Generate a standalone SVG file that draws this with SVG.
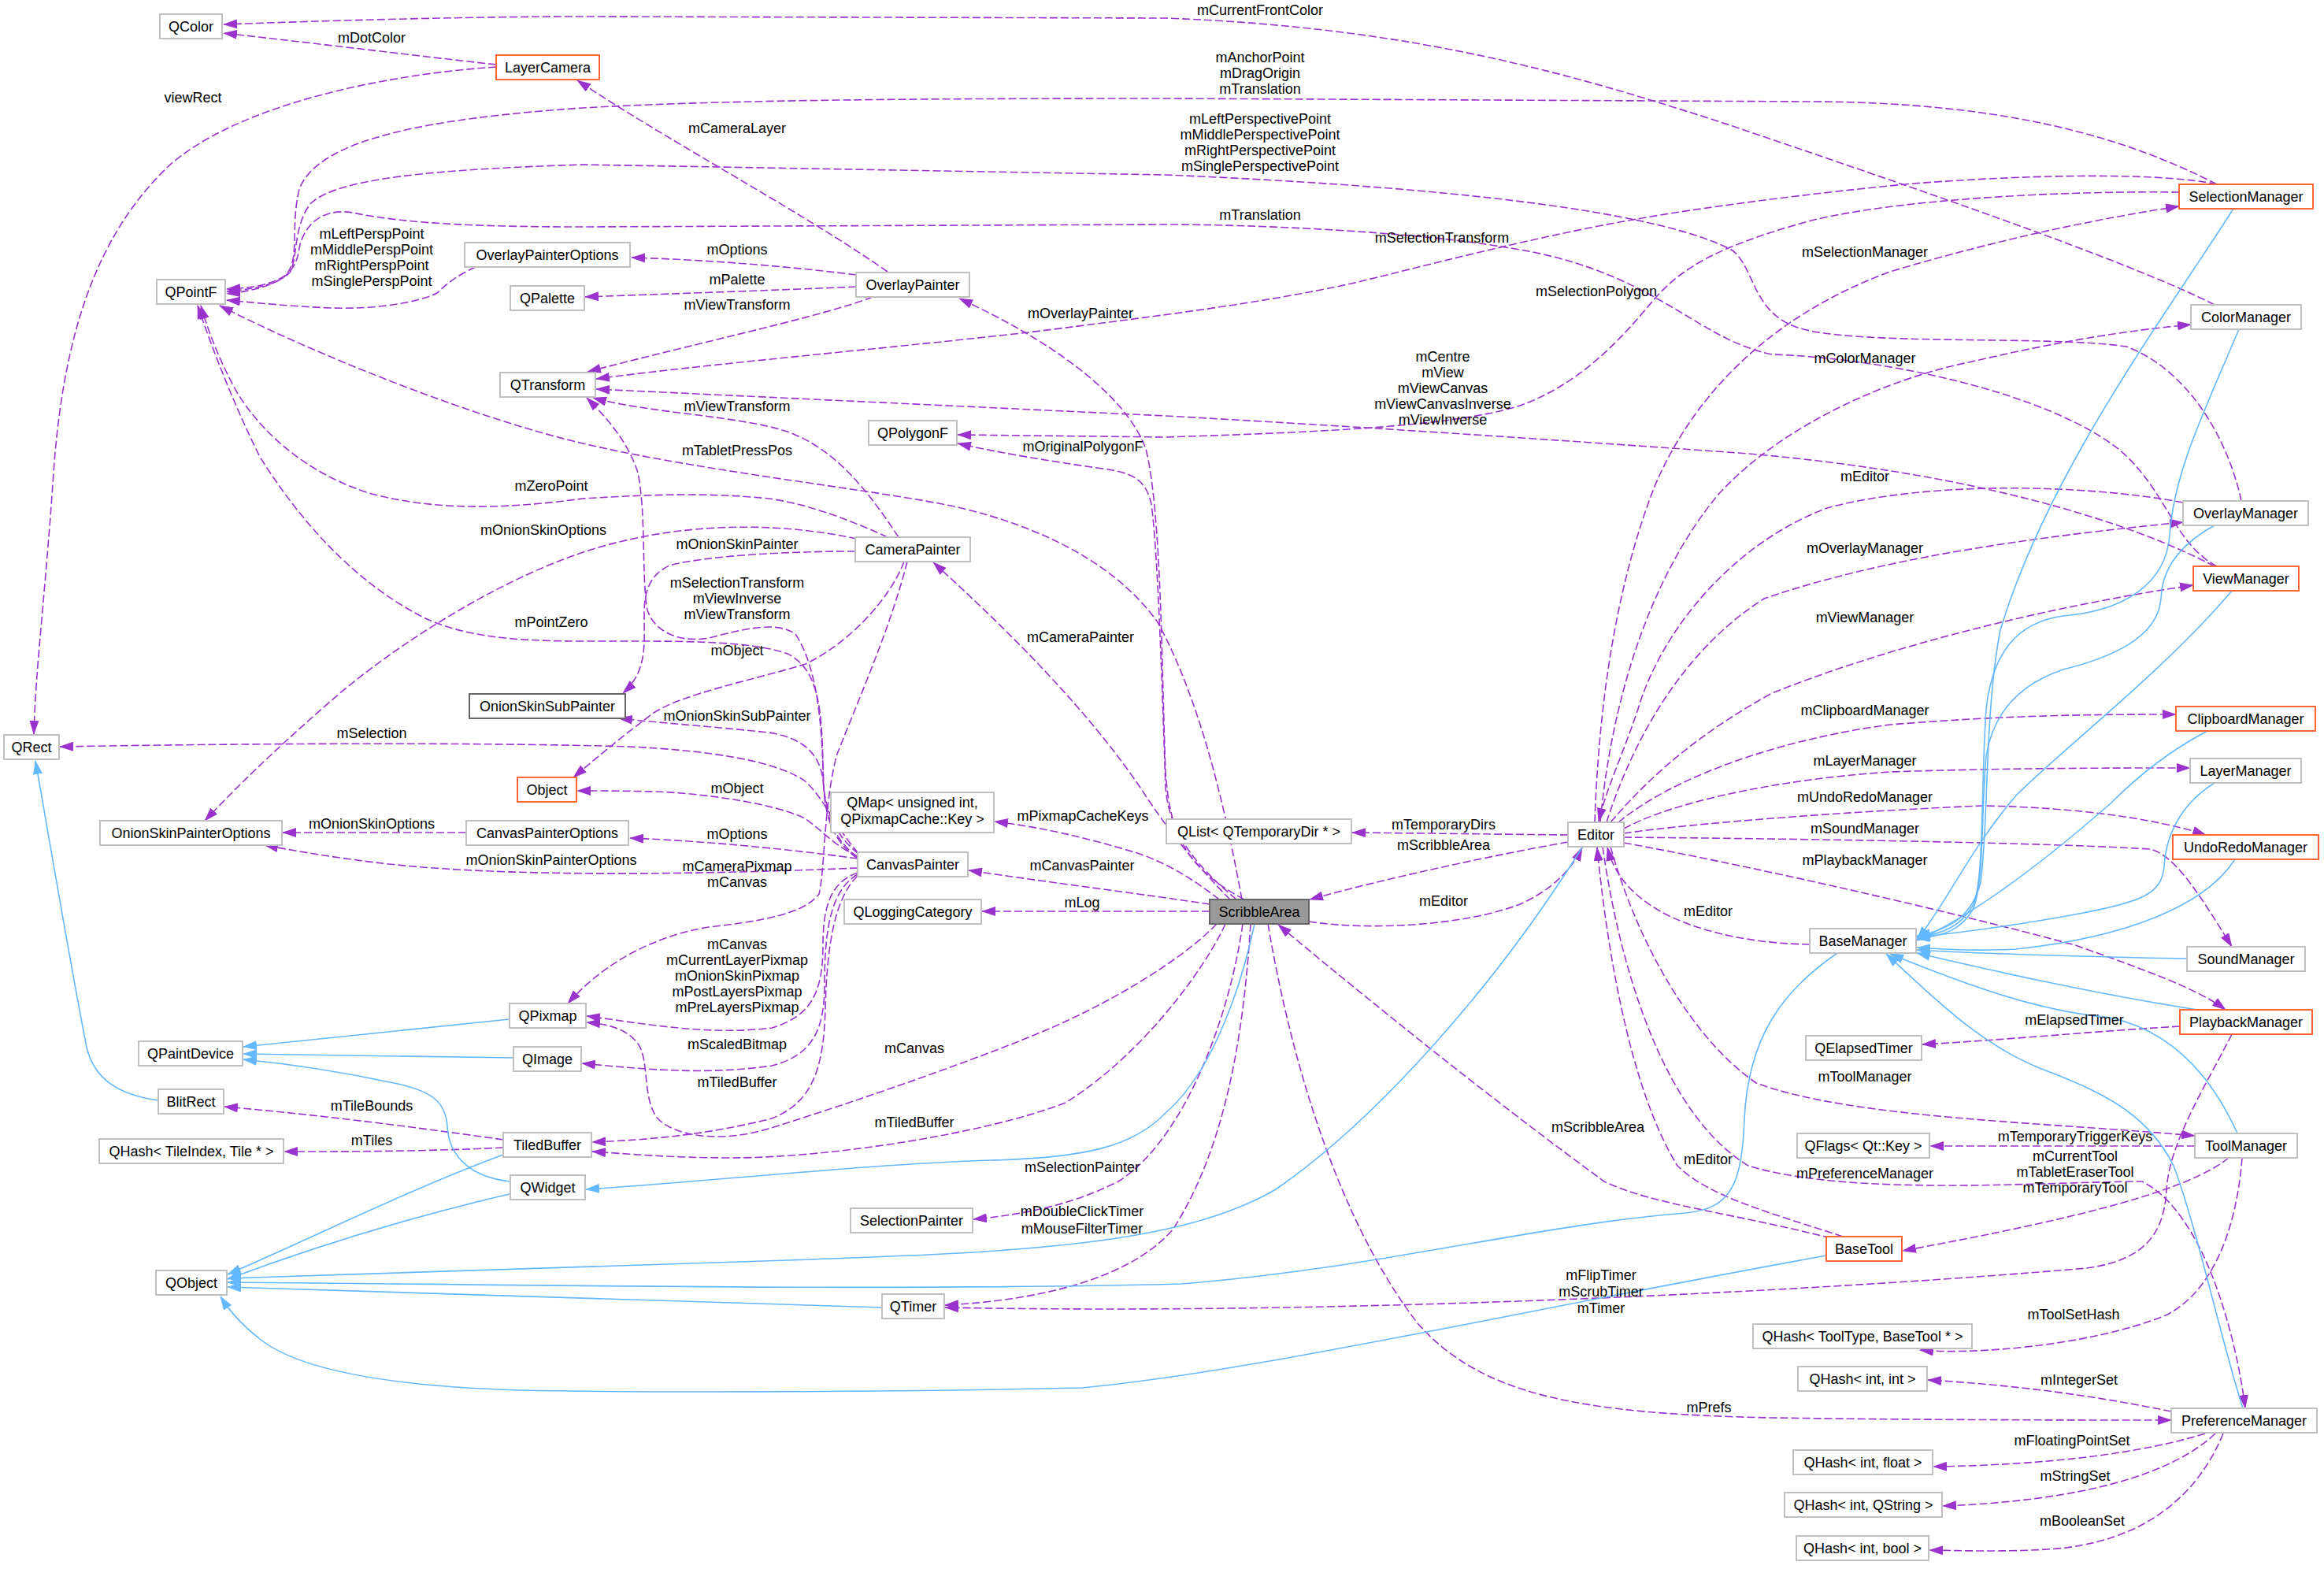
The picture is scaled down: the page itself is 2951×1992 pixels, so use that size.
<svg xmlns="http://www.w3.org/2000/svg" width="2951" height="1992" viewBox="0 0 2951 1992">
<defs>
<style>
.e{fill:none;stroke:#9a32cd;stroke-width:1.6;stroke-dasharray:10,4;marker-end:url(#ap)}
.i{fill:none;stroke:#63b8ff;stroke-width:1.6;marker-end:url(#ab)}
.l{font-family:"Liberation Sans",Arial,sans-serif;font-size:18px;text-anchor:middle;fill:#000}
.nd{fill:#fff;stroke:#bfbfbf;stroke-width:2}
.or{fill:#fff;stroke:#ff6633;stroke-width:2}
.dk{fill:#fff;stroke:#666;stroke-width:2}
.sa{fill:#999;stroke:#666;stroke-width:2}
</style>
<marker id="ap" viewBox="0 0 18 12" refX="17" refY="6" markerWidth="18" markerHeight="12" markerUnits="userSpaceOnUse" orient="auto"><path d="M0,0 L18,6 L0,12 z" fill="#9a32cd"/></marker>
<marker id="ab" viewBox="0 0 18 12" refX="17" refY="6" markerWidth="18" markerHeight="12" markerUnits="userSpaceOnUse" orient="auto"><path d="M0,0 L18,6 L0,12 z" fill="#63b8ff"/></marker>
</defs>
<rect width="2951" height="1992" fill="#fff"/>
<g id="connectors">
<path class="e" d="M630,82 C540,72 400,55 284,42"/>
<path class="e" d="M2812,387 C2700,330 2420,235 2200,160 C2000,95 1800,35 1480,23 L740,21 C600,21 420,26 284,31"/>
<path class="e" d="M630,85 C480,95 300,135 215,210 C120,300 80,430 68,600 C58,750 45,850 43,932"/>
<path class="e" d="M2815,234 C2700,175 2550,130 2300,129 L1480,125 C1100,125 900,128 740,137 C550,150 405,175 380,240 C368,290 382,330 362,350 C340,364 310,366 288,367"/>
<path class="e" d="M2846,636 C2830,560 2780,470 2700,440 C2600,425 2350,440 2280,415 C2225,395 2228,340 2200,318 C2120,275 1900,240 1480,222 L740,209 C560,215 425,225 393,260 C372,290 378,330 368,346 C350,364 312,368 288,370"/>
<path class="e" d="M2815,719 C2760,690 2750,620 2690,570 C2600,500 2400,455 2250,450 C2150,430 2100,340 1905,313 C1800,295 1600,285 1480,285 L740,288 C620,288 520,285 448,270 C405,263 385,290 380,315 C376,345 360,365 288,373"/>
<path class="e" d="M604,339 C580,350 570,358 555,372 C530,385 470,393 420,391 C370,389 320,384 288,381"/>
<path class="e" d="M1089,1088 C1052,1062 1046,1020 1045,980 C1044,900 1040,850 1000,830 C950,812 850,814 740,814 C650,814 590,808 540,785 C450,740 380,660 330,580 C300,520 272,450 251,388"/>
<path class="e" d="M1127,682 C1090,665 1030,640 976,633 C900,625 820,628 740,633 C650,645 560,650 472,627 C400,605 340,560 302,500 C285,470 267,430 255,388"/>
<path class="e" d="M1577,1142 C1560,1050 1530,900 1470,790 C1420,720 1330,670 1212,643 C1100,620 900,600 740,563 C600,530 400,450 279,388"/>
<path class="e" d="M1087,349 C1000,338 900,330 802,327"/>
<path class="e" d="M1087,364 C1000,368 850,373 743,377"/>
<path class="e" d="M1108,377 C1050,400 900,432 746,472"/>
<path class="e" d="M1127,345 C1020,270 850,180 733,102"/>
<path class="e" d="M1580,1142 C1500,1100 1485,1050 1480,980 C1475,850 1475,650 1455,570 C1430,500 1330,430 1218,379"/>
<path class="e" d="M2815,234 C2750,220 2600,220 2430,233 C2300,245 2150,265 2079,278 C1950,300 1800,340 1716,360 C1600,385 1480,400 1306,422 C1100,445 900,462 757,481"/>
<path class="e" d="M2767,244 C2600,242 2400,255 2300,280 C2160,318 2125,350 2092,390 C2050,440 2000,490 1930,515 C1850,540 1700,548 1480,555 L1216,552"/>
<path class="e" d="M2812,719 C2700,660 2500,600 2220,576 C2000,560 1700,540 1480,528 L757,494"/>
<path class="e" d="M1141,682 C1100,620 1060,570 1000,548 C940,528 820,524 753,505"/>
<path class="e" d="M1089,1090 C1060,1070 1048,1040 1046,1000 C1044,930 1040,850 1010,805 C985,787 940,800 900,810 C860,817 827,800 821,770 C815,720 820,650 810,600 C797,560 770,530 745,505"/>
<path class="e" d="M1086,700 C1000,700 900,705 850,718 C825,730 818,750 818,780 C818,820 822,852 791,880"/>
<path class="e" d="M1088,684 C1000,665 880,660 760,695 C640,730 500,820 420,890 C340,960 300,1000 260,1042"/>
<path class="e" d="M1148,713 C1130,760 1080,815 1023,843 C950,865 870,880 830,905 C790,935 760,960 728,987"/>
<path class="e" d="M1152,713 C1130,800 1085,900 1062,960 C1045,1030 1048,1100 1040,1135 C1020,1162 960,1170 900,1177 C820,1190 760,1230 721,1274"/>
<path class="e" d="M1089,1090 C1000,1078 900,1068 800,1064"/>
<path class="e" d="M1089,1102 C900,1110 700,1112 566,1103 C480,1098 400,1085 336,1073"/>
<path class="e" d="M592,1057 L359,1057"/>
<path class="e" d="M1089,1087 C1060,1075 1040,1050 1020,1038 C980,1020 900,1008 834,1005 C790,1004 760,1004 733,1004"/>
<path class="e" d="M1090,1084 C1060,1060 1048,1030 1045,990 C1040,950 1010,935 976,930 C900,922 840,918 786,912"/>
<path class="e" d="M1090,1083 C1060,1050 1045,1010 1020,990 C980,965 900,953 800,948 C600,942 300,944 76,948"/>
<path class="e" d="M1089,1108 C1055,1120 1045,1150 1045,1200 C1045,1260 1030,1290 980,1305 C900,1315 820,1300 745,1290"/>
<path class="e" d="M1089,1110 C1055,1130 1047,1180 1047,1250 C1047,1310 1030,1340 980,1353 C900,1365 820,1358 739,1350"/>
<path class="e" d="M1089,1112 C1060,1140 1050,1200 1048,1280 C1046,1360 1030,1400 980,1420 C900,1440 830,1447 752,1450"/>
<path class="e" d="M1545,1173 C1500,1220 1400,1280 1306,1317 C1200,1360 1050,1410 976,1433 C920,1450 860,1445 835,1420 C815,1395 825,1345 810,1325 C795,1305 770,1300 745,1298"/>
<path class="e" d="M1556,1173 C1530,1230 1450,1340 1353,1400 C1250,1440 1050,1470 929,1470 C850,1470 800,1465 752,1462"/>
<path class="e" d="M639,1447 C520,1430 400,1415 285,1405"/>
<path class="e" d="M639,1457 C540,1462 440,1462 361,1462"/>
<path class="e" d="M1570,1142 C1520,1100 1485,1060 1480,1000 C1475,850 1470,700 1462,640 C1455,610 1440,600 1400,595 C1330,585 1270,575 1216,563"/>
<path class="e" d="M1562,1142 C1520,1100 1480,1050 1448,1000 C1380,900 1280,800 1185,714"/>
<path class="e" d="M1548,1142 C1520,1120 1490,1100 1450,1085 C1380,1063 1320,1050 1263,1043"/>
<path class="e" d="M1536,1148 C1450,1135 1330,1120 1230,1105"/>
<path class="e" d="M1536,1157 L1247,1157"/>
<path class="e" d="M1991,1060 L1717,1057"/>
<path class="e" d="M1991,1069 C1900,1085 1760,1115 1663,1142"/>
<path class="e" d="M1662,1170 C1740,1182 1860,1175 1930,1148 C1970,1130 1995,1105 2009,1076"/>
<path class="e" d="M2025,1044 C2030,900 2050,750 2100,620 C2150,500 2250,400 2400,345 C2550,300 2680,275 2767,262"/>
<path class="e" d="M2032,1044 C2045,900 2090,740 2180,630 C2260,540 2400,480 2500,460 C2620,432 2700,420 2782,412"/>
<path class="e" d="M2040,1044 C2070,950 2130,830 2240,760 C2400,705 2600,680 2772,663"/>
<path class="e" d="M2045,1044 C2100,980 2160,930 2250,880 C2400,820 2600,770 2785,743"/>
<path class="e" d="M2055,1044 C2120,990 2250,940 2400,920 C2550,908 2650,907 2763,907"/>
<path class="e" d="M2062,1052 C2120,1020 2250,990 2400,980 C2550,975 2680,975 2781,975"/>
<path class="e" d="M2062,1058 C2150,1045 2350,1030 2517,1023 C2640,1025 2740,1040 2801,1060"/>
<path class="e" d="M2062,1063 C2300,1065 2600,1070 2730,1078 C2760,1085 2790,1130 2834,1202"/>
<path class="e" d="M2062,1070 C2200,1095 2450,1150 2635,1200 C2720,1230 2790,1255 2826,1282"/>
<path class="e" d="M2045,1075 C2080,1200 2150,1320 2230,1375 C2350,1420 2600,1425 2787,1442"/>
<path class="e" d="M2035,1075 C2060,1250 2120,1420 2220,1480 C2350,1520 2600,1500 2720,1500 C2800,1540 2840,1700 2851,1788"/>
<path class="e" d="M2298,1199 C2230,1198 2160,1185 2110,1158 C2070,1135 2050,1110 2041,1076"/>
<path class="e" d="M2340,1570 C2250,1540 2170,1520 2130,1480 C2080,1400 2045,1250 2028,1076"/>
<path class="e" d="M2325,1572 C2200,1540 2100,1530 2037,1500 C1900,1400 1750,1280 1623,1174"/>
<path class="e" d="M2787,1455 L2451,1455"/>
<path class="e" d="M2830,1470 C2780,1510 2650,1545 2416,1588"/>
<path class="e" d="M2847,1470 C2840,1560 2810,1640 2750,1670 C2650,1710 2500,1720 2438,1714"/>
<path class="e" d="M2768,1303 C2650,1310 2550,1320 2441,1326"/>
<path class="e" d="M2834,1313 C2800,1380 2755,1450 2751,1510 C2748,1570 2720,1600 2650,1610 C2300,1640 1700,1670 1200,1660"/>
<path class="e" d="M1588,1173 C1580,1300 1560,1450 1490,1560 C1430,1630 1300,1652 1200,1657"/>
<path class="e" d="M1578,1173 C1560,1300 1500,1450 1420,1500 C1360,1530 1300,1542 1236,1548"/>
<path class="e" d="M1610,1173 C1640,1350 1700,1550 1800,1680 C1880,1770 2000,1795 2250,1800 C2450,1803 2650,1803 2757,1803"/>
<path class="e" d="M2757,1792 C2650,1770 2550,1758 2448,1752"/>
<path class="e" d="M2800,1820 C2720,1845 2600,1860 2455,1862"/>
<path class="e" d="M2813,1820 C2760,1870 2650,1905 2467,1912"/>
<path class="e" d="M2823,1820 C2790,1900 2720,1960 2600,1967 C2550,1970 2500,1969 2450,1968"/>
<path class="e" d="M2772,638 C2650,615 2450,610 2320,645 C2200,690 2110,800 2080,900 C2060,960 2040,1000 2030,1043"/>
<path class="i" d="M2836,265 C2750,400 2600,600 2540,800 C2520,900 2525,1050 2515,1120 C2505,1160 2480,1180 2434,1188"/>
<path class="i" d="M2843,418 C2800,520 2760,600 2755,680 C2750,740 2700,775 2620,782 C2560,790 2530,830 2522,900 C2515,1000 2520,1120 2505,1150 C2490,1175 2470,1185 2434,1190"/>
<path class="i" d="M2812,667 C2770,690 2745,720 2744,760 C2740,810 2680,835 2620,850 C2560,870 2530,910 2522,960 C2515,1040 2520,1120 2505,1155 C2490,1180 2470,1188 2434,1192"/>
<path class="i" d="M2834,750 C2750,850 2620,950 2560,1010 C2500,1080 2470,1150 2434,1193"/>
<path class="i" d="M2805,927 C2760,950 2720,980 2680,1020 C2600,1090 2510,1160 2434,1194"/>
<path class="i" d="M2812,994 C2770,1020 2750,1060 2748,1100 C2745,1135 2720,1145 2640,1160 C2560,1175 2480,1185 2434,1190"/>
<path class="i" d="M2838,1091 C2800,1150 2700,1190 2560,1205 C2500,1208 2460,1205 2434,1203"/>
<path class="i" d="M2777,1217 C2650,1215 2500,1210 2434,1206"/>
<path class="i" d="M2790,1282 C2650,1260 2520,1230 2434,1210"/>
<path class="i" d="M2841,1439 C2810,1370 2760,1310 2680,1292 C2600,1285 2520,1260 2400,1211"/>
<path class="i" d="M2848,1788 C2820,1700 2790,1560 2760,1480 C2730,1420 2680,1390 2600,1360 C2520,1330 2470,1280 2395,1211"/>
<path class="i" d="M2333,1210 C2260,1260 2220,1320 2215,1420 C2212,1500 2200,1535 2140,1540 C1950,1555 1750,1610 1500,1630 C1100,1640 600,1630 289,1628"/>
<path class="i" d="M2319,1594 C1900,1670 1600,1740 1374,1762 C1100,1768 800,1768 659,1765 C500,1760 380,1740 330,1700 C305,1680 292,1665 280,1646"/>
<path class="i" d="M1120,1660 C800,1650 500,1640 289,1634"/>
<path class="i" d="M651,1515 C500,1550 380,1590 289,1624"/>
<path class="i" d="M639,1466 C520,1510 400,1570 289,1618"/>
<path class="i" d="M648,1500 C600,1495 570,1470 568,1430 C566,1400 550,1385 500,1375 C430,1360 360,1350 309,1345"/>
<path class="i" d="M647,1294 L309,1329"/>
<path class="i" d="M652,1343 L309,1338"/>
<path class="i" d="M201,1397 C150,1390 120,1370 110,1330 C85,1200 60,1050 45,966"/>
<path class="i" d="M1593,1173 C1570,1280 1530,1370 1480,1413 C1440,1455 1380,1470 1259,1473 C1100,1478 900,1500 744,1510"/>
<path class="i" d="M2009,1076 C1900,1250 1750,1420 1620,1510 C1500,1580 1300,1590 1000,1600 C700,1610 450,1620 289,1623"/>
</g>
<g id="edge-labels" class="l">
<text x="1600" y="19">mCurrentFrontColor</text>
<text x="472" y="54">mDotColor</text>
<text x="245" y="130">viewRect</text>
<text x="1600" y="79">mAnchorPoint</text>
<text x="1600" y="99">mDragOrigin</text>
<text x="1600" y="119">mTranslation</text>
<text x="936" y="169">mCameraLayer</text>
<text x="1600" y="157">mLeftPerspectivePoint</text>
<text x="1600" y="177">mMiddlePerspectivePoint</text>
<text x="1600" y="197">mRightPerspectivePoint</text>
<text x="1600" y="217">mSinglePerspectivePoint</text>
<text x="1600" y="279">mTranslation</text>
<text x="1831" y="308">mSelectionTransform</text>
<text x="472" y="303">mLeftPerspPoint</text>
<text x="472" y="323">mMiddlePerspPoint</text>
<text x="472" y="343">mRightPerspPoint</text>
<text x="472" y="363">mSinglePerspPoint</text>
<text x="936" y="323">mOptions</text>
<text x="936" y="361">mPalette</text>
<text x="936" y="393">mViewTransform</text>
<text x="1372" y="404">mOverlayPainter</text>
<text x="2027" y="376">mSelectionPolygon</text>
<text x="2368" y="326">mSelectionManager</text>
<text x="2368" y="461">mColorManager</text>
<text x="1832" y="459">mCentre</text>
<text x="1832" y="479">mView</text>
<text x="1832" y="499">mViewCanvas</text>
<text x="1832" y="519">mViewCanvasInverse</text>
<text x="1832" y="539">mViewInverse</text>
<text x="936" y="522">mViewTransform</text>
<text x="1375" y="573">mOriginalPolygonF</text>
<text x="936" y="578">mTabletPressPos</text>
<text x="2368" y="611">mEditor</text>
<text x="700" y="623">mZeroPoint</text>
<text x="690" y="679">mOnionSkinOptions</text>
<text x="936" y="697">mOnionSkinPainter</text>
<text x="2368" y="702">mOverlayManager</text>
<text x="936" y="746">mSelectionTransform</text>
<text x="936" y="766">mViewInverse</text>
<text x="936" y="786">mViewTransform</text>
<text x="2368" y="790">mViewManager</text>
<text x="700" y="796">mPointZero</text>
<text x="1372" y="815">mCameraPainter</text>
<text x="936" y="832">mObject</text>
<text x="936" y="915">mOnionSkinSubPainter</text>
<text x="2368" y="908">mClipboardManager</text>
<text x="472" y="937">mSelection</text>
<text x="2368" y="972">mLayerManager</text>
<text x="936" y="1007">mObject</text>
<text x="2368" y="1018">mUndoRedoManager</text>
<text x="1375" y="1042">mPixmapCacheKeys</text>
<text x="1833" y="1053">mTemporaryDirs</text>
<text x="472" y="1052">mOnionSkinOptions</text>
<text x="2368" y="1058">mSoundManager</text>
<text x="936" y="1065">mOptions</text>
<text x="1833" y="1079">mScribbleArea</text>
<text x="700" y="1098">mOnionSkinPainterOptions</text>
<text x="2368" y="1098">mPlaybackManager</text>
<text x="1374" y="1105">mCanvasPainter</text>
<text x="936" y="1106">mCameraPixmap</text>
<text x="936" y="1126">mCanvas</text>
<text x="1833" y="1150">mEditor</text>
<text x="1374" y="1152">mLog</text>
<text x="2169" y="1163">mEditor</text>
<text x="936" y="1205">mCanvas</text>
<text x="936" y="1225">mCurrentLayerPixmap</text>
<text x="936" y="1245">mOnionSkinPixmap</text>
<text x="936" y="1265">mPostLayersPixmap</text>
<text x="936" y="1285">mPreLayersPixmap</text>
<text x="2634" y="1301">mElapsedTimer</text>
<text x="936" y="1332">mScaledBitmap</text>
<text x="1161" y="1337">mCanvas</text>
<text x="2368" y="1373">mToolManager</text>
<text x="936" y="1380">mTiledBuffer</text>
<text x="472" y="1410">mTileBounds</text>
<text x="1161" y="1431">mTiledBuffer</text>
<text x="2029" y="1437">mScribbleArea</text>
<text x="2635" y="1449">mTemporaryTriggerKeys</text>
<text x="472" y="1454">mTiles</text>
<text x="2635" y="1474">mCurrentTool</text>
<text x="2635" y="1494">mTabletEraserTool</text>
<text x="2635" y="1514">mTemporaryTool</text>
<text x="2169" y="1478">mEditor</text>
<text x="1374" y="1488">mSelectionPainter</text>
<text x="2368" y="1496">mPreferenceManager</text>
<text x="1374" y="1544">mDoubleClickTimer</text>
<text x="1374" y="1566">mMouseFilterTimer</text>
<text x="2033" y="1625">mFlipTimer</text>
<text x="2033" y="1646">mScrubTimer</text>
<text x="2033" y="1667">mTimer</text>
<text x="2633" y="1675">mToolSetHash</text>
<text x="2640" y="1758">mIntegerSet</text>
<text x="2170" y="1793">mPrefs</text>
<text x="2631" y="1835">mFloatingPointSet</text>
<text x="2635" y="1880">mStringSet</text>
<text x="2644" y="1937">mBooleanSet</text>
</g>
<g id="n-QColor"><rect class="nd" x="203" y="18" width="79" height="31"/><text class="l" x="242.5" y="40">QColor</text></g>
<g id="n-LayerCamera"><rect class="or" x="630" y="70" width="131" height="31"/><text class="l" x="695.5" y="92">LayerCamera</text></g>
<g id="n-QPointF"><rect class="nd" x="199" y="355" width="87" height="31"/><text class="l" x="242.5" y="377">QPointF</text></g>
<g id="n-OverlayPainterOptions"><rect class="nd" x="590" y="308" width="210" height="31"/><text class="l" x="695" y="330">OverlayPainterOptions</text></g>
<g id="n-QPalette"><rect class="nd" x="648" y="363" width="94" height="31"/><text class="l" x="695" y="385">QPalette</text></g>
<g id="n-QTransform"><rect class="nd" x="635" y="473" width="121" height="31"/><text class="l" x="695.5" y="495">QTransform</text></g>
<g id="n-OverlayPainter"><rect class="nd" x="1087" y="346" width="144" height="31"/><text class="l" x="1159" y="368">OverlayPainter</text></g>
<g id="n-SelectionManager"><rect class="or" x="2767" y="234" width="170" height="31"/><text class="l" x="2852" y="256">SelectionManager</text></g>
<g id="n-ColorManager"><rect class="nd" x="2782" y="387" width="140" height="31"/><text class="l" x="2852" y="409">ColorManager</text></g>
<g id="n-QRect"><rect class="nd" x="5" y="933" width="70" height="31"/><text class="l" x="40" y="955">QRect</text></g>
<g id="n-OnionSkinSubPainter"><rect class="dk" x="596" y="881" width="198" height="31"/><text class="l" x="695" y="903">OnionSkinSubPainter</text></g>
<g id="n-Object"><rect class="or" x="657" y="987" width="75" height="31"/><text class="l" x="694.5" y="1009">Object</text></g>
<g id="n-QPolygonF"><rect class="nd" x="1103" y="534" width="112" height="31"/><text class="l" x="1159" y="556">QPolygonF</text></g>
<g id="n-CameraPainter"><rect class="nd" x="1086" y="682" width="146" height="31"/><text class="l" x="1159" y="704">CameraPainter</text></g>
<g id="n-OverlayManager"><rect class="nd" x="2772" y="636" width="159" height="31"/><text class="l" x="2851.5" y="658">OverlayManager</text></g>
<g id="n-ViewManager"><rect class="or" x="2785" y="719" width="134" height="31"/><text class="l" x="2852" y="741">ViewManager</text></g>
<g id="n-ClipboardManager"><rect class="or" x="2763" y="897" width="177" height="31"/><text class="l" x="2851.5" y="919">ClipboardManager</text></g>
<g id="n-LayerManager"><rect class="nd" x="2781" y="963" width="141" height="31"/><text class="l" x="2851.5" y="985">LayerManager</text></g>
<g id="n-OnionSkinPainterOptions"><rect class="nd" x="127" y="1042" width="231" height="31"/><text class="l" x="242.5" y="1064">OnionSkinPainterOptions</text></g>
<g id="n-CanvasPainterOptions"><rect class="nd" x="592" y="1042" width="206" height="31"/><text class="l" x="695" y="1064">CanvasPainterOptions</text></g>
<g id="n-QPixmap"><rect class="nd" x="647" y="1274" width="97" height="31"/><text class="l" x="695.5" y="1296">QPixmap</text></g>
<g id="n-QPaintDevice"><rect class="nd" x="176" y="1322" width="132" height="31"/><text class="l" x="242" y="1344">QPaintDevice</text></g>
<g id="n-QImage"><rect class="nd" x="652" y="1329" width="86" height="31"/><text class="l" x="695" y="1351">QImage</text></g>
<g id="n-BlitRect"><rect class="nd" x="201" y="1383" width="83" height="31"/><text class="l" x="242.5" y="1405">BlitRect</text></g>
<g id="n-QHashTileIndex"><rect class="nd" x="126" y="1446" width="234" height="31"/><text class="l" x="243" y="1468">QHash&lt; TileIndex, Tile * &gt;</text></g>
<g id="n-TiledBuffer"><rect class="nd" x="639" y="1438" width="112" height="31"/><text class="l" x="695" y="1460">TiledBuffer</text></g>
<g id="n-QWidget"><rect class="nd" x="648" y="1492" width="95" height="31"/><text class="l" x="695.5" y="1514">QWidget</text></g>
<g id="n-QMap"><rect class="nd" x="1055" y="1006" width="207" height="51"/><text class="l" x="1158.5" y="1025">QMap&lt; unsigned int,</text><text class="l" x="1158.5" y="1046">QPixmapCache::Key &gt;</text></g>
<g id="n-CanvasPainter"><rect class="nd" x="1089" y="1082" width="140" height="31"/><text class="l" x="1159" y="1104">CanvasPainter</text></g>
<g id="n-QLoggingCategory"><rect class="nd" x="1072" y="1142" width="174" height="31"/><text class="l" x="1159" y="1164">QLoggingCategory</text></g>
<g id="n-QList"><rect class="nd" x="1481" y="1040" width="235" height="31"/><text class="l" x="1598.5" y="1062">QList&lt; QTemporaryDir * &gt;</text></g>
<g id="n-Editor"><rect class="nd" x="1991" y="1044" width="71" height="31"/><text class="l" x="2026.5" y="1066">Editor</text></g>
<g id="n-ScribbleArea"><rect class="sa" x="1536" y="1142" width="126" height="31"/><text class="l" x="1599" y="1164">ScribbleArea</text></g>
<g id="n-UndoRedoManager"><rect class="or" x="2759" y="1060" width="185" height="31"/><text class="l" x="2851.5" y="1082">UndoRedoManager</text></g>
<g id="n-BaseManager"><rect class="nd" x="2298" y="1179" width="135" height="31"/><text class="l" x="2365.5" y="1201">BaseManager</text></g>
<g id="n-SoundManager"><rect class="nd" x="2777" y="1202" width="150" height="31"/><text class="l" x="2852" y="1224">SoundManager</text></g>
<g id="n-PlaybackManager"><rect class="or" x="2768" y="1282" width="168" height="31"/><text class="l" x="2852" y="1304">PlaybackManager</text></g>
<g id="n-QElapsedTimer"><rect class="nd" x="2293" y="1315" width="147" height="31"/><text class="l" x="2366.5" y="1337">QElapsedTimer</text></g>
<g id="n-ToolManager"><rect class="nd" x="2787" y="1439" width="130" height="31"/><text class="l" x="2852" y="1461">ToolManager</text></g>
<g id="n-QFlags"><rect class="nd" x="2282" y="1439" width="168" height="31"/><text class="l" x="2366" y="1461">QFlags&lt; Qt::Key &gt;</text></g>
<g id="n-SelectionPainter"><rect class="nd" x="1080" y="1534" width="155" height="31"/><text class="l" x="1157.5" y="1556">SelectionPainter</text></g>
<g id="n-QObject"><rect class="nd" x="198" y="1613" width="90" height="31"/><text class="l" x="243" y="1635">QObject</text></g>
<g id="n-QTimer"><rect class="nd" x="1120" y="1643" width="79" height="31"/><text class="l" x="1159.5" y="1665">QTimer</text></g>
<g id="n-BaseTool"><rect class="or" x="2319" y="1570" width="96" height="31"/><text class="l" x="2367" y="1592">BaseTool</text></g>
<g id="n-QHashToolType"><rect class="nd" x="2226" y="1681" width="278" height="31"/><text class="l" x="2365" y="1703">QHash&lt; ToolType, BaseTool * &gt;</text></g>
<g id="n-QHashIntInt"><rect class="nd" x="2283" y="1735" width="164" height="31"/><text class="l" x="2365" y="1757">QHash&lt; int, int &gt;</text></g>
<g id="n-PreferenceManager"><rect class="nd" x="2757" y="1788" width="185" height="31"/><text class="l" x="2849.5" y="1810">PreferenceManager</text></g>
<g id="n-QHashIntFloat"><rect class="nd" x="2277" y="1841" width="177" height="31"/><text class="l" x="2365.5" y="1863">QHash&lt; int, float &gt;</text></g>
<g id="n-QHashIntQString"><rect class="nd" x="2266" y="1895" width="200" height="31"/><text class="l" x="2366" y="1917">QHash&lt; int, QString &gt;</text></g>
<g id="n-QHashIntBool"><rect class="nd" x="2281" y="1950" width="168" height="31"/><text class="l" x="2365" y="1972">QHash&lt; int, bool &gt;</text></g>
</svg>
